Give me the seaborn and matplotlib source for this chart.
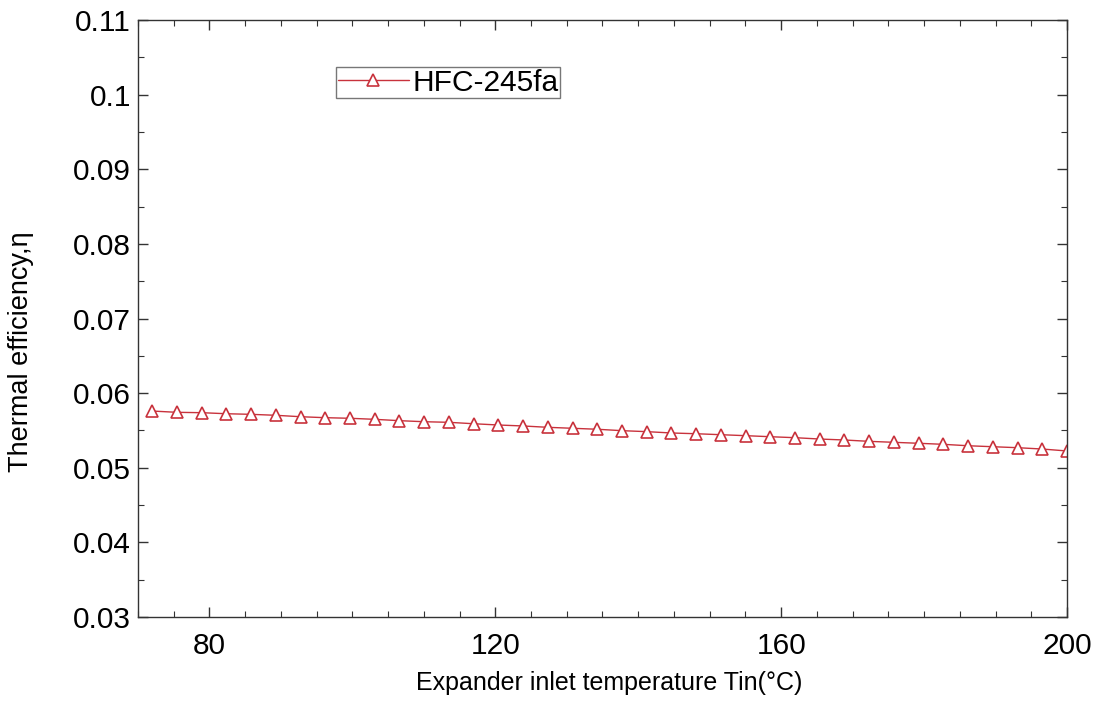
import matplotlib
matplotlib.use("Agg")
import matplotlib.pyplot as plt
import seaborn as sns
import pandas as pd
from matplotlib.ticker import MultipleLocator

temperature = [72.0, 75.46, 78.92, 82.38, 85.84, 89.30, 92.76, 96.22, 99.68, 103.14,
               106.59, 110.05, 113.51, 116.97, 120.43, 123.89, 127.35, 130.81, 134.27,
               137.73, 141.19, 144.65, 148.11, 151.57, 155.03, 158.49, 161.95, 165.41,
               168.86, 172.32, 175.78, 179.24, 182.70, 186.16, 189.62, 193.08, 196.54, 200.0]
efficiency = [0.05760, 0.05743, 0.05738, 0.05724, 0.05716, 0.05703, 0.05684, 0.05671,
              0.05663, 0.05649, 0.05631, 0.05617, 0.05609, 0.05590, 0.05573, 0.05560,
              0.05542, 0.05529, 0.05516, 0.05497, 0.05484, 0.05466, 0.05456, 0.05443,
              0.05430, 0.05416, 0.05403, 0.05385, 0.05372, 0.05354, 0.05341, 0.05328,
              0.05314, 0.05295, 0.05282, 0.05269, 0.05251, 0.05225]
series_name = "HFC-245fa"
x_ticks = [80, 120, 160, 200]

df = pd.DataFrame({"T": temperature, "eta": efficiency})

sns.set_theme(style="ticks")
plt.rcParams['font.family'] = ['Liberation Sans', 'DejaVu Sans']
plt.rcParams['text.color'] = 'black'

fig = plt.figure(figsize=(11.01, 7.23), dpi=100)
ax = fig.add_axes([0.1253, 0.1466, 0.9691 - 0.1253, 0.9723 - 0.1466])

color = "#c8323c"
sns.lineplot(data=df, x="T", y="eta", ax=ax, color=color, linewidth=1.0,
             marker="^", markersize=9, markerfacecolor="white",
             markeredgecolor=color, markeredgewidth=1.2, label=series_name)

ax.set_xlim(70, 200)
ax.set_ylim(0.03, 0.11)
ax.set_xticks(x_ticks)
ax.xaxis.set_minor_locator(MultipleLocator(5))
ax.yaxis.set_major_locator(MultipleLocator(0.01))
ax.yaxis.set_minor_locator(MultipleLocator(0.005))
ax.set_yticks(ax.get_yticks())
ax.set_yticklabels([f"{v:g}" for v in ax.get_yticks()])
ax.set_ylim(0.03, 0.11)

ax.tick_params(which="both", direction="in", top=True, right=True, colors="#333333",
               labelcolor="black")
ax.tick_params(which="major", length=7, width=1, labelsize=21.5)
ax.tick_params(axis="x", which="major", pad=11)
ax.tick_params(axis="y", which="major", pad=5)
ax.tick_params(which="minor", length=4, width=0.8)
for s in ax.spines.values():
    s.set_color("#333333")
    s.set_linewidth(1.0)

ax.set_xlabel("Expander inlet temperature Tin(°C)", fontsize=18, color="black")
ax.set_ylabel("Thermal efficiency,η", fontsize=19.5, color="black")
ax.xaxis.set_label_coords(0.507, -0.0905)
ax.yaxis.set_label_coords(-0.112, 0.444)

leg = ax.legend(loc="upper left", bbox_to_anchor=(0.2132, 0.921), fontsize=21.5,
                frameon=True, fancybox=False, edgecolor="#555555", handlelength=2.4,
                borderpad=0.05, handletextpad=0.1, borderaxespad=0)
leg.get_frame().set_linewidth(1.0)
for t in leg.get_texts():
    t.set_color("black")

fig.savefig("out.png", dpi=100)
